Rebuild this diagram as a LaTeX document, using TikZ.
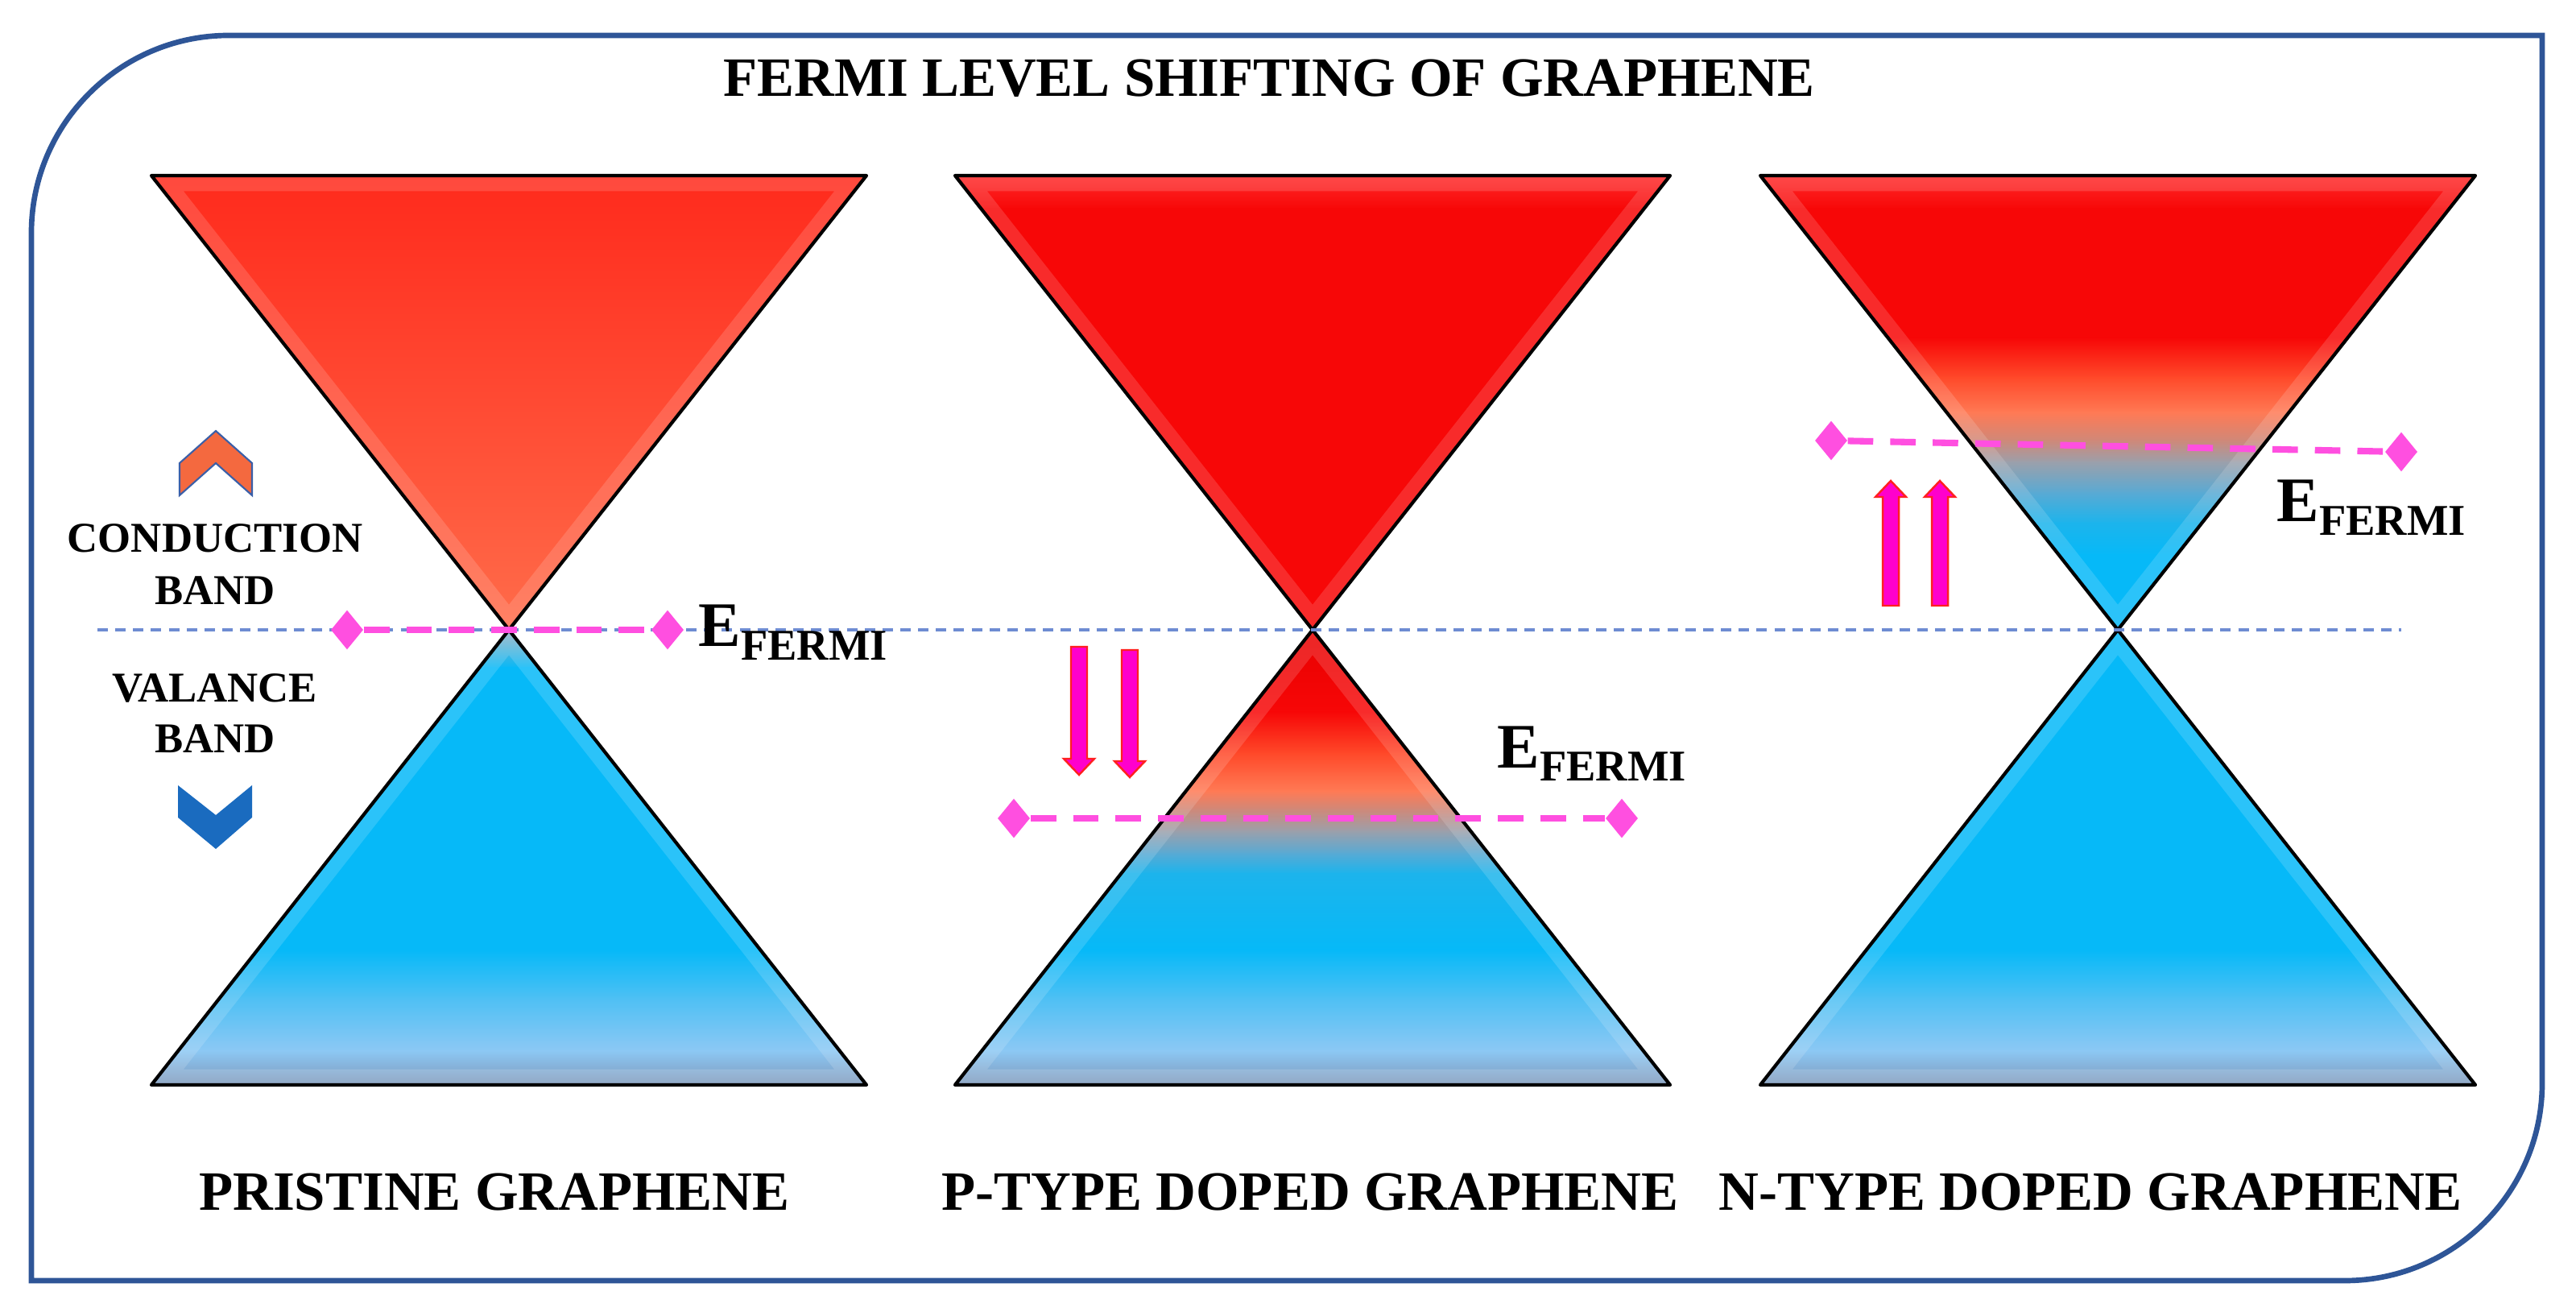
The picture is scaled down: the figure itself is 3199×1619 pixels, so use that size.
\documentclass[tikz,border=0pt]{standalone}
\usepackage{fontspec}
\setmainfont{Liberation Serif}
\usetikzlibrary{shapes.geometric}
\definecolor{framec}{HTML}{2E5597}
\definecolor{fermimag}{HTML}{FF4FE0}
\definecolor{bluedash}{HTML}{6E8CD2}
\definecolor{arrowfill}{HTML}{FF00CC}
\definecolor{arrowline}{HTML}{FF2020}
\definecolor{chevup}{HTML}{F4693F}
\definecolor{chevupline}{HTML}{3A5FA8}
\definecolor{chevdown}{HTML}{1A6BBF}
% band colours
\definecolor{rA}{HTML}{FF2A1C}
\definecolor{rB}{HTML}{FF4A33}
\definecolor{rC}{HTML}{FF6C4A}
\definecolor{rr}{HTML}{F70707}
\definecolor{rrt}{HTML}{FF2A2A}
\definecolor{rdk}{HTML}{E80000}
\definecolor{oA}{HTML}{FF4A2A}
\definecolor{oB}{HTML}{FF7A55}
\definecolor{gA}{HTML}{D08878}
\definecolor{gB}{HTML}{9AA0AC}
\definecolor{bA}{HTML}{58AAD4}
\definecolor{bB}{HTML}{1CB4EC}
\definecolor{bb}{HTML}{06B9F8}
\definecolor{bL}{HTML}{8CC8F4}
\definecolor{bM}{HTML}{4EC0F4}
\definecolor{bD}{HTML}{7F98BA}
\definecolor{tipg}{HTML}{9AB0C0}
\newcommand\seg[4]{\shade[top color=#3,bottom color=#4] (0,#1) rectangle (3199,#2);}
\tikzset{
  frameline/.style={draw=framec,line width=1.9pt},
  coneline/.style={draw=black,line width=1.2pt,line join=round},
  bevel/.style={draw=white,opacity=0.15,line width=11pt},
  blueline/.style={draw=bluedash,line width=0.9pt,dash pattern=on 3.7pt off 2.6pt},
  fermiline/.style={draw=fermimag,line width=2.3pt,dash pattern=on 9pt off 6pt},
  fermidia/.style={diamond,fill=fermimag,minimum width=11.5pt,minimum height=14pt,inner sep=0pt},
  dopearrow/.style={fill=arrowfill,draw=arrowline,line width=0.7pt,line join=miter},
  titletext/.style={anchor=base,inner sep=0pt,font=\fontsize{19.6}{22}\selectfont\bfseries},
  sidetext/.style={anchor=base,inner sep=0pt,font=\fontsize{15}{17}\selectfont\bfseries},
  efermi/.style={anchor=base west,inner sep=0pt,font=\bfseries}
}
\newcommand\efermitext{{\fontsize{22.4}{24}\selectfont E}{\fontsize{15.5}{16}\selectfont\raisebox{-4.8pt}{FERMI}}}
\begin{document}
\begin{tikzpicture}[x=0.01cm,y=-0.01cm]
\useasboundingbox (0,0) rectangle (3199,1619);
\fill[white] (0,0) rectangle (3199,1619);
% frame
\draw[frameline] (39,289) .. controls (39,154) and (149,44) .. (284,44) -- (3157,44) -- (3157,1345)
  .. controls (3157,1480) and (3047,1590) .. (2912,1590) -- (39,1590) -- cycle;
% title
\node[titletext] (title) at (1576,120) {FERMI LEVEL SHIFTING OF GRAPHENE};

% ===== Pristine cone (cx=632)
\begin{scope}
\clip (188,218) -- (1076,218) -- (632,782) -- cycle;
\seg{217}{500}{rA}{rB}
\seg{499}{783}{rB}{rC}
\draw[bevel] (188,218) -- (1076,218) -- (632,782) -- cycle;
\end{scope}
\begin{scope}
\clip (632,782) -- (1076,1347) -- (188,1347) -- cycle;
\seg{781}{830}{tipg}{bb}
\seg{829}{1180}{bb}{bb}
\seg{1179}{1240}{bb}{bM}
\seg{1239}{1305}{bM}{bL}
\seg{1304}{1348}{bL}{bD}
\draw[bevel] (632,782) -- (1076,1347) -- (188,1347) -- cycle;
\end{scope}
\draw[coneline] (188,218) -- (1076,218) -- (632,782) -- cycle;
\draw[coneline] (632,782) -- (1076,1347) -- (188,1347) -- cycle;

% ===== P-type cone (cx=1630)
\begin{scope}
\clip (1186,218) -- (2074,218) -- (1630,782) -- cycle;
\seg{217}{260}{rrt}{rr}
\seg{259}{783}{rr}{rr}
\draw[bevel] (1186,218) -- (2074,218) -- (1630,782) -- cycle;
\end{scope}
\begin{scope}
\clip (1630,782) -- (2074,1347) -- (1186,1347) -- cycle;
\seg{781}{885}{rdk}{rr}
\seg{884}{937}{rr}{oA}
\seg{936}{983}{oA}{oB}
\seg{982}{1005}{oB}{gA}
\seg{1004}{1033}{gA}{gB}
\seg{1032}{1060}{gB}{bA}
\seg{1059}{1085}{bA}{bB}
\seg{1084}{1180}{bB}{bb}
\seg{1179}{1240}{bb}{bM}
\seg{1239}{1305}{bM}{bL}
\seg{1304}{1348}{bL}{bD}
\draw[bevel] (1630,782) -- (2074,1347) -- (1186,1347) -- cycle;
\end{scope}
\draw[coneline] (1186,218) -- (2074,218) -- (1630,782) -- cycle;
\draw[coneline] (1630,782) -- (2074,1347) -- (1186,1347) -- cycle;

% ===== N-type cone (cx=2630)
\begin{scope}
\clip (2186,218) -- (3074,218) -- (2630,782) -- cycle;
\seg{217}{260}{rrt}{rr}
\seg{259}{420}{rr}{rr}
\seg{419}{470}{rr}{oA}
\seg{469}{513}{oA}{oB}
\seg{512}{547}{oB}{gA}
\seg{546}{575}{gA}{gB}
\seg{574}{613}{gB}{bA}
\seg{612}{650}{bA}{bB}
\seg{649}{690}{bB}{bb}
\seg{689}{783}{bb}{bb}
\draw[bevel] (2186,218) -- (3074,218) -- (2630,782) -- cycle;
\end{scope}
\begin{scope}
\clip (2630,782) -- (3074,1347) -- (2186,1347) -- cycle;
\seg{781}{1180}{bb}{bb}
\seg{1179}{1240}{bb}{bM}
\seg{1239}{1305}{bM}{bL}
\seg{1304}{1348}{bL}{bD}
\draw[bevel] (2630,782) -- (3074,1347) -- (2186,1347) -- cycle;
\end{scope}
\draw[coneline] (2186,218) -- (3074,218) -- (2630,782) -- cycle;
\draw[coneline] (2630,782) -- (3074,1347) -- (2186,1347) -- cycle;

% blue reference line
\coordinate (bl) at (121,782);
\coordinate (br) at (2982,782);
\draw[blueline] (bl) -- (br);

% Fermi levels
\node[fermidia] (p1) at (431,782) {};
\node[fermidia] (p2) at (829,782) {};
\draw[fermiline] (p1) -- (p2);
\node[fermidia] (m1) at (1259,1016) {};
\node[fermidia] (m2) at (2014,1016) {};
\draw[fermiline] (m1) -- (m2);
\node[fermidia] (n1) at (2274,547) {};
\node[fermidia] (n2) at (2982,561) {};
\draw[fermiline] (n1) -- (n2);

% E_FERMI labels
\node[efermi] (ef1) at (867,803) {\efermitext};
\node[efermi] (ef2) at (1859,953) {\efermitext};
\node[efermi] (ef3) at (2827,648) {\efermitext};

% doping arrows
\draw[dopearrow] (1330,803) -- (1350,803) -- (1350,942) -- (1359,942) -- (1340,962) -- (1321,942) -- (1330,942) -- cycle;
\draw[dopearrow] (1393,807) -- (1413,807) -- (1413,945) -- (1422,945) -- (1403,965) -- (1384,945) -- (1393,945) -- cycle;
\draw[dopearrow] (2338,752) -- (2358,752) -- (2358,617) -- (2367,617) -- (2348,597) -- (2329,617) -- (2338,617) -- cycle;
\draw[dopearrow] (2399,752) -- (2419,752) -- (2419,617) -- (2428,617) -- (2409,597) -- (2390,617) -- (2399,617) -- cycle;

% side labels and chevrons
\draw[fill=chevup,draw=chevupline,line width=0.6pt,line join=miter] (268,535) -- (313,575) -- (313,615) -- (268,575) -- (223,615) -- (223,575) -- cycle;
\node[sidetext] (cb1) at (267,686) {CONDUCTION};
\node[sidetext] (cb2) at (267,751) {BAND};
\node[sidetext] (vb1) at (267,872) {VALANCE};
\node[sidetext] (vb2) at (267,935) {BAND};
\fill[chevdown] (221,975) -- (268,1012) -- (313,975) -- (313,1015) -- (268,1054) -- (221,1015) -- cycle;

% bottom labels
\node[titletext] (lab1) at (614,1502) {PRISTINE GRAPHENE};
\node[titletext] (lab2) at (1627,1502) {P-TYPE DOPED GRAPHENE};
\node[titletext] (lab3) at (2596,1502) {N-TYPE DOPED GRAPHENE};
\end{tikzpicture}
\end{document}
